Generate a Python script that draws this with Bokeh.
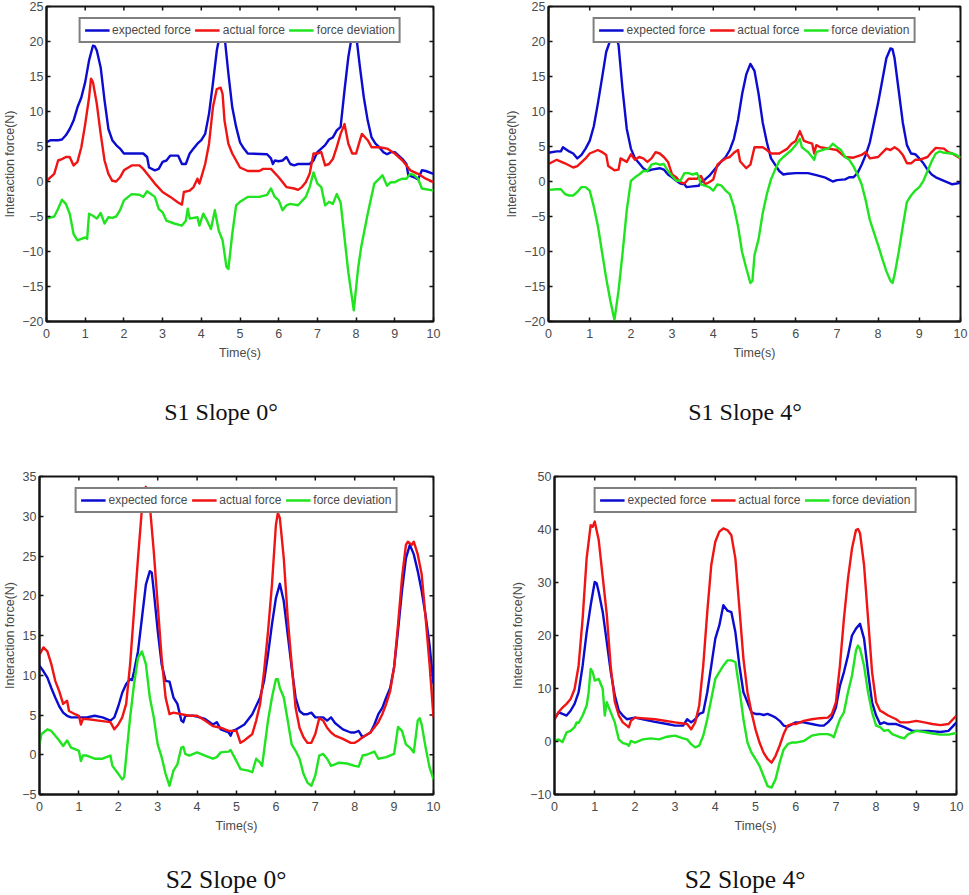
import math
from bokeh.plotting import figure
from bokeh.models import Range1d, FixedTicker, Div, Spacer
from bokeh.layouts import column, row
from bokeh.embed import file_html
from bokeh.resources import INLINE

# ---------------- data (time s, force N) ----------------
S1_SLOPE0_EXPECTED = [(0,5.6),(0.1,5.9),(0.3,5.9),(0.4,6.0),(0.5,6.6),(0.6,7.5),(0.7,8.7),(0.8,10.6),(0.9,12.0),(1.0,14.2),(1.1,17.3),(1.2,19.4),(1.25,19.3),(1.3,18.7),(1.4,16.3),(1.5,11.6),(1.6,7.5),(1.7,5.9),(1.8,5.2),(1.9,4.7),(2.0,4.0),(2.5,4.0),(2.6,3.5),(2.65,2.0),(2.8,1.6),(2.9,1.8),(3.0,2.8),(3.1,3.0),(3.2,3.7),(3.4,3.7),(3.5,2.5),(3.6,2.5),(3.7,4.0),(3.8,4.7),(3.9,5.4),(4.0,5.9),(4.1,6.8),(4.2,9.7),(4.3,14.0),(4.4,18.7),(4.5,21.5),(4.55,22.0),(4.6,20.8),(4.7,15.4),(4.8,10.6),(4.9,7.8),(5.0,5.6),(5.1,4.7),(5.2,4.0),(5.7,3.9),(5.8,3.3),(5.85,2.5),(5.9,3.0),(6.0,2.9),(6.1,3.0),(6.2,3.5),(6.3,2.5),(6.4,2.3),(6.5,2.5),(6.8,2.5),(6.9,3.0),(7.0,4.2),(7.1,4.7),(7.2,5.2),(7.3,6.0),(7.4,6.3),(7.5,7.3),(7.6,7.8),(7.7,13.0),(7.8,17.8),(7.9,21.1),(7.95,22.0),(8.0,21.0),(8.1,16.3),(8.2,12.0),(8.3,8.7),(8.4,6.3),(8.5,5.4),(8.6,4.9),(8.7,4.2),(8.8,3.9),(8.9,4.2),(9.0,4.2),(9.1,3.7),(9.2,3.2),(9.3,2.5),(9.35,0.9),(9.5,0.6),(9.6,0.3),(9.7,1.6),(9.8,1.5),(10,1.1)]
S1_SLOPE0_ACTUAL = [(0,0.1),(0.1,0.6),(0.2,1.1),(0.3,3.0),(0.4,3.2),(0.5,3.5),(0.6,3.5),(0.7,2.3),(0.8,2.8),(0.9,4.9),(1.0,8.2),(1.1,12.0),(1.15,14.7),(1.2,14.2),(1.3,11.1),(1.4,6.8),(1.5,3.0),(1.6,1.1),(1.7,0.1),(1.8,0.0),(1.9,0.6),(2.0,1.6),(2.2,2.3),(2.4,2.3),(2.5,1.8),(2.6,1.1),(2.8,-0.3),(3.0,-1.5),(3.2,-2.2),(3.4,-3.0),(3.5,-3.3),(3.55,-1.5),(3.7,-1.3),(3.8,-0.8),(3.9,0.4),(3.95,-0.3),(4.0,0.6),(4.1,2.5),(4.2,5.4),(4.3,10.6),(4.4,13.2),(4.5,13.4),(4.55,12.5),(4.6,8.7),(4.7,5.4),(4.8,4.0),(4.9,3.0),(5.0,2.0),(5.2,1.5),(5.5,1.5),(5.6,1.8),(5.8,1.8),(6.0,0.6),(6.2,-0.8),(6.4,-1.0),(6.5,-1.2),(6.6,-0.8),(6.7,-0.1),(6.8,1.1),(6.9,4.0),(7.0,4.0),(7.1,4.2),(7.2,2.3),(7.3,2.5),(7.4,3.2),(7.5,4.9),(7.6,6.8),(7.7,8.2),(7.75,6.8),(7.8,5.4),(7.9,4.0),(8.0,4.0),(8.1,5.9),(8.15,6.8),(8.3,5.9),(8.4,4.9),(8.6,4.9),(8.8,4.7),(9.0,4.0),(9.2,3.0),(9.4,1.6),(9.6,1.1),(9.8,0.4),(10,-0.1)]
S1_SLOPE0_DEVIATION = [(0,-5.3),(0.2,-5.0),(0.3,-3.9),(0.4,-2.6),(0.5,-3.2),(0.6,-4.6),(0.7,-7.5),(0.8,-8.4),(0.9,-8.2),(1.0,-8.0),(1.05,-8.2),(1.1,-4.6),(1.2,-4.9),(1.3,-5.3),(1.4,-4.5),(1.5,-6.0),(1.6,-5.1),(1.7,-5.2),(1.8,-5.0),(1.9,-4.1),(2.0,-2.7),(2.2,-1.8),(2.4,-1.9),(2.5,-2.2),(2.6,-1.4),(2.8,-2.2),(2.9,-3.9),(3.0,-4.4),(3.1,-5.6),(3.3,-6.0),(3.5,-6.3),(3.6,-5.6),(3.65,-3.9),(3.7,-5.3),(3.9,-5.1),(3.95,-6.3),(4.05,-4.6),(4.15,-5.6),(4.25,-6.8),(4.35,-4.1),(4.45,-7.0),(4.55,-8.4),(4.65,-12.2),(4.7,-12.5),(4.8,-7.5),(4.9,-3.4),(5.0,-2.9),(5.2,-2.2),(5.5,-2.2),(5.7,-1.9),(5.8,-1.0),(5.9,-2.2),(6.0,-2.7),(6.1,-4.1),(6.2,-3.4),(6.3,-3.2),(6.5,-3.4),(6.7,-2.2),(6.8,-0.8),(6.9,1.3),(7.0,-0.3),(7.1,-0.8),(7.2,-3.4),(7.3,-2.9),(7.4,-3.2),(7.5,-1.8),(7.6,-3.0),(7.7,-8.0),(7.8,-13.0),(7.94,-18.4),(8.05,-12.5),(8.13,-9.4),(8.3,-4.6),(8.47,-0.3),(8.6,0.4),(8.68,0.9),(8.8,-0.6),(8.9,-0.1),(9.0,-0.1),(9.1,0.2),(9.2,0.4),(9.3,0.4),(9.4,1.1),(9.5,0.9),(9.6,0.4),(9.7,-1.0),(10,-1.3)]

S1_SLOPE4_EXPECTED = [(0,4.1),(0.2,4.3),(0.3,4.3),(0.35,4.9),(0.5,4.3),(0.6,4.0),(0.7,3.3),(0.8,3.8),(0.9,4.7),(1.0,5.8),(1.1,7.9),(1.2,11.2),(1.3,14.8),(1.4,18.5),(1.5,20.2),(1.6,21.5),(1.7,19.5),(1.8,13.0),(1.9,7.5),(2.0,4.7),(2.1,3.3),(2.2,2.6),(2.3,1.9),(2.4,1.5),(2.5,1.7),(2.7,1.9),(2.8,1.7),(2.9,1.0),(3.0,0.6),(3.1,0.1),(3.2,-0.3),(3.3,-0.4),(3.35,-0.8),(3.5,-0.7),(3.65,-0.6),(3.7,-0.1),(3.8,0.3),(3.9,0.8),(4.0,1.5),(4.1,2.2),(4.2,2.9),(4.3,3.5),(4.4,4.5),(4.5,6.1),(4.6,8.8),(4.7,12.5),(4.8,15.3),(4.9,16.8),(5.0,15.8),(5.1,12.5),(5.2,8.4),(5.3,5.6),(5.4,3.3),(5.5,2.4),(5.6,1.5),(5.7,1.0),(5.8,1.1),(6.0,1.2),(6.3,1.2),(6.5,0.9),(6.7,0.6),(6.8,0.3),(6.9,0.0),(7.0,0.2),(7.2,0.3),(7.3,0.6),(7.4,0.6),(7.5,1.2),(7.6,2.4),(7.7,3.8),(7.8,5.6),(7.9,8.4),(8.0,11.2),(8.1,14.4),(8.2,17.6),(8.3,19.0),(8.35,18.9),(8.4,17.6),(8.5,13.0),(8.6,8.4),(8.7,5.2),(8.8,4.0),(8.9,3.9),(9.0,3.3),(9.1,2.6),(9.2,1.7),(9.3,1.0),(9.4,0.6),(9.6,0.1),(9.8,-0.4),(10,-0.2)]
S1_SLOPE4_ACTUAL = [(0,2.5),(0.2,3.1),(0.4,2.6),(0.6,2.0),(0.7,2.2),(0.9,3.3),(1.0,4.0),(1.2,4.5),(1.3,4.2),(1.4,3.8),(1.45,2.2),(1.6,1.6),(1.7,1.7),(1.75,3.3),(1.9,2.8),(2.0,3.9),(2.1,3.1),(2.2,3.5),(2.3,3.3),(2.4,2.8),(2.5,3.3),(2.6,4.2),(2.7,4.0),(2.8,3.5),(2.9,2.8),(3.0,1.0),(3.1,0.6),(3.2,-0.1),(3.3,-0.3),(3.4,0.4),(3.6,0.4),(3.7,0.8),(3.8,-0.4),(3.9,-0.1),(4.0,0.3),(4.1,2.4),(4.2,2.9),(4.3,3.3),(4.4,3.5),(4.5,4.1),(4.6,4.5),(4.65,2.9),(4.8,1.9),(4.9,2.4),(5.0,4.9),(5.2,4.9),(5.3,4.5),(5.4,4.0),(5.6,4.0),(5.8,4.7),(5.9,5.4),(6.0,5.8),(6.1,7.2),(6.2,5.8),(6.3,5.6),(6.4,5.4),(6.45,4.0),(6.5,5.2),(6.6,4.9),(6.8,4.7),(7.0,4.5),(7.2,3.5),(7.4,3.4),(7.6,3.8),(7.7,4.2),(7.8,3.3),(8.0,3.5),(8.2,4.7),(8.3,4.5),(8.4,4.9),(8.5,4.5),(8.6,3.8),(8.7,2.6),(8.8,2.6),(8.9,3.1),(9.0,3.1),(9.2,3.5),(9.3,4.2),(9.4,4.8),(9.6,4.7),(9.7,4.2),(9.8,4.0),(10,3.3)]
S1_SLOPE4_DEVIATION = [(0,-1.2),(0.2,-1.1),(0.3,-1.1),(0.4,-1.8),(0.5,-2.0),(0.6,-2.0),(0.7,-1.5),(0.8,-0.8),(0.9,-0.8),(1.0,-1.3),(1.1,-3.6),(1.2,-6.4),(1.3,-10.1),(1.4,-13.8),(1.5,-17.0),(1.6,-19.8),(1.7,-15.6),(1.8,-10.1),(1.9,-4.1),(2.0,0.1),(2.1,0.6),(2.2,1.0),(2.3,1.5),(2.4,1.5),(2.5,2.4),(2.6,2.6),(2.7,2.4),(2.8,2.5),(2.9,1.5),(3.0,0.8),(3.1,0.1),(3.2,0.1),(3.3,1.2),(3.4,1.2),(3.5,1.0),(3.6,1.2),(3.65,0.6),(3.7,-0.4),(3.9,-0.8),(4.0,-1.3),(4.1,-0.4),(4.2,-0.6),(4.3,-1.3),(4.4,-1.8),(4.5,-3.6),(4.6,-6.4),(4.7,-10.1),(4.8,-12.4),(4.9,-14.5),(4.95,-14.2),(5.0,-10.5),(5.1,-8.2),(5.2,-4.5),(5.3,-1.8),(5.4,0.3),(5.5,1.7),(5.6,2.9),(5.7,3.5),(5.8,4.0),(5.9,4.5),(6.0,5.2),(6.1,6.1),(6.15,4.9),(6.3,4.2),(6.45,3.1),(6.5,4.2),(6.7,4.6),(6.8,4.7),(6.9,5.4),(7.0,4.9),(7.1,4.5),(7.2,3.5),(7.3,3.1),(7.4,2.2),(7.5,1.0),(7.6,-0.4),(7.7,-2.7),(7.8,-5.5),(7.9,-7.3),(8.0,-9.1),(8.1,-11.0),(8.2,-12.8),(8.3,-14.2),(8.35,-14.5),(8.4,-13.3),(8.5,-10.1),(8.6,-6.4),(8.7,-2.9),(8.8,-2.0),(8.9,-1.3),(9.0,-0.8),(9.1,0.1),(9.2,1.5),(9.3,2.9),(9.4,4.0),(9.5,4.3),(9.6,4.1),(9.8,4.0),(9.9,3.8),(10,3.4)]

S2_SLOPE0_EXPECTED = [(0,11.2),(0.1,10.5),(0.2,9.7),(0.3,8.4),(0.4,7.2),(0.5,6.1),(0.6,5.3),(0.7,4.9),(0.8,4.7),(1.0,4.7),(1.2,4.7),(1.4,4.9),(1.6,4.7),(1.8,4.3),(1.9,4.7),(2.0,6.1),(2.1,7.8),(2.2,8.9),(2.3,9.5),(2.35,9.4),(2.4,10.5),(2.5,13.0),(2.6,17.2),(2.7,21.4),(2.8,23.1),(2.85,22.9),(2.9,20.6),(3.0,15.6),(3.1,11.4),(3.2,9.3),(3.3,9.2),(3.4,7.2),(3.5,6.4),(3.6,4.3),(3.65,4.1),(3.7,4.9),(3.9,4.9),(4.0,4.8),(4.2,4.5),(4.4,3.8),(4.5,4.1),(4.6,3.2),(4.8,2.8),(4.85,2.4),(4.9,3.0),(5.0,3.2),(5.2,3.8),(5.4,5.1),(5.6,7.2),(5.7,9.3),(5.8,12.6),(5.9,16.4),(6.0,19.7),(6.1,21.5),(6.2,19.3),(6.3,15.1),(6.4,11.0),(6.5,7.2),(6.6,5.5),(6.7,5.1),(6.8,5.1),(6.9,5.3),(7.0,4.7),(7.2,4.7),(7.3,4.3),(7.4,4.7),(7.5,4.0),(7.7,3.2),(7.9,2.8),(8.0,2.8),(8.1,3.0),(8.2,2.2),(8.4,2.8),(8.5,3.8),(8.6,5.1),(8.7,5.9),(8.8,7.2),(8.9,8.4),(9.0,11.0),(9.1,15.6),(9.2,20.6),(9.3,24.7),(9.4,26.4),(9.5,25.2),(9.6,23.1),(9.7,20.6),(9.8,17.5),(9.9,13.8),(10,8.9)]
S2_SLOPE0_ACTUAL = [(0,12.6),(0.1,13.5),(0.2,13.0),(0.3,11.4),(0.4,9.3),(0.5,8.0),(0.6,6.4),(0.7,6.8),(0.75,5.5),(0.9,5.1),(1.0,4.9),(1.05,3.8),(1.1,4.5),(1.2,4.5),(1.5,4.3),(1.8,4.1),(1.9,3.2),(2.0,3.8),(2.1,4.7),(2.2,6.4),(2.3,11.4),(2.4,18.1),(2.5,24.7),(2.6,31.0),(2.7,33.7),(2.75,33.1),(2.8,31.4),(2.9,25.6),(3.0,18.9),(3.1,12.2),(3.2,7.2),(3.3,5.1),(3.4,5.3),(3.6,5.1),(3.8,4.9),(4.0,4.9),(4.2,4.3),(4.4,3.6),(4.6,3.4),(4.8,3.0),(5.0,3.0),(5.1,1.5),(5.2,1.8),(5.3,2.2),(5.4,2.6),(5.5,4.3),(5.6,6.4),(5.7,10.5),(5.8,15.5),(5.9,21.4),(6.0,28.9),(6.05,30.4),(6.1,29.8),(6.2,24.7),(6.3,17.2),(6.4,11.4),(6.5,5.9),(6.6,3.4),(6.7,2.2),(6.8,1.5),(6.9,1.5),(7.0,2.6),(7.1,4.6),(7.2,4.3),(7.3,3.4),(7.4,2.8),(7.5,2.4),(7.7,2.0),(7.9,1.5),(8.0,1.5),(8.1,1.8),(8.2,2.2),(8.4,2.8),(8.6,4.1),(8.7,5.1),(8.8,6.4),(8.9,8.0),(9.0,11.0),(9.1,16.4),(9.2,22.2),(9.3,26.4),(9.35,26.8),(9.45,26.4),(9.5,26.8),(9.6,25.2),(9.7,22.7),(9.8,17.2),(9.9,11.4),(10,4.7)]
S2_SLOPE0_DEVIATION = [(0,1.3),(0.05,2.6),(0.1,2.8),(0.2,3.2),(0.3,3.0),(0.4,2.4),(0.5,1.8),(0.6,1.1),(0.7,1.8),(0.8,0.9),(0.9,0.7),(1.0,0.5),(1.05,-0.8),(1.1,-0.1),(1.2,-0.1),(1.4,-0.5),(1.6,-0.5),(1.8,-0.1),(1.85,-1.4),(2.0,-2.4),(2.1,-3.1),(2.15,-2.8),(2.2,-0.3),(2.3,4.7),(2.4,8.9),(2.5,12.2),(2.6,13.0),(2.7,11.4),(2.8,7.2),(2.9,4.7),(3.0,1.3),(3.1,-0.3),(3.2,-2.4),(3.3,-3.9),(3.4,-2.0),(3.5,-1.2),(3.6,0.9),(3.65,1.0),(3.7,0.1),(3.8,-0.1),(4.0,0.3),(4.2,-0.1),(4.4,-0.5),(4.5,-0.3),(4.6,0.3),(4.8,0.4),(4.85,0.6),(5.0,-0.8),(5.1,-1.8),(5.3,-2.0),(5.4,-2.2),(5.5,-0.5),(5.6,-1.0),(5.65,-1.4),(5.7,0.5),(5.8,4.3),(5.9,7.2),(6.0,9.5),(6.05,9.5),(6.1,8.4),(6.2,7.2),(6.3,4.3),(6.4,1.3),(6.5,0.5),(6.6,-0.5),(6.7,-2.4),(6.8,-3.5),(6.9,-3.9),(7.0,-2.6),(7.1,-0.1),(7.2,0.1),(7.3,-0.5),(7.4,-1.4),(7.5,-1.2),(7.6,-1.0),(7.8,-1.1),(8.0,-1.4),(8.1,-1.5),(8.2,-0.1),(8.3,0.0),(8.5,0.4),(8.6,-0.5),(8.8,-0.3),(9.0,0.1),(9.1,3.5),(9.2,3.0),(9.3,1.3),(9.4,0.9),(9.5,0.3),(9.6,4.3),(9.65,4.6),(9.7,3.8),(9.8,0.9),(9.9,-1.6),(10,-3.1)]

S2_SLOPE4_EXPECTED = [(0,4.2),(0.1,5.5),(0.2,5.2),(0.3,4.9),(0.4,5.8),(0.5,7.1),(0.6,9.3),(0.7,14.3),(0.8,20.6),(0.9,25.7),(1.0,30.1),(1.05,29.8),(1.1,28.2),(1.2,24.4),(1.3,18.8),(1.4,13.1),(1.5,8.7),(1.6,5.8),(1.7,4.9),(1.8,4.2),(2.0,4.5),(2.2,4.2),(2.5,3.7),(2.8,3.3),(3.0,3.0),(3.2,3.0),(3.3,4.2),(3.4,3.6),(3.5,4.2),(3.6,5.2),(3.7,5.5),(3.8,9.3),(3.9,14.3),(4.0,19.4),(4.1,21.9),(4.2,25.7),(4.3,24.7),(4.4,24.4),(4.5,20.6),(4.6,14.3),(4.7,9.3),(4.8,7.4),(4.9,5.5),(5.0,5.2),(5.1,5.2),(5.2,5.0),(5.3,5.2),(5.4,4.9),(5.5,4.5),(5.6,3.9),(5.7,3.0),(5.8,2.8),(6.0,3.6),(6.2,3.6),(6.4,3.3),(6.6,3.0),(6.7,3.0),(6.8,3.6),(6.9,4.5),(7.0,6.4),(7.1,10.5),(7.2,13.1),(7.3,16.2),(7.4,20.0),(7.5,21.3),(7.6,22.2),(7.7,19.4),(7.8,13.1),(7.9,7.4),(8.0,4.9),(8.1,3.3),(8.2,3.6),(8.3,3.3),(8.5,3.3),(8.7,2.7),(8.9,2.0),(9.0,2.0),(9.3,2.0),(9.6,1.8),(9.8,2.0),(10,3.6)]
S2_SLOPE4_ACTUAL = [(0,4.2),(0.1,5.5),(0.2,6.4),(0.3,7.1),(0.4,8.0),(0.5,9.9),(0.6,14.3),(0.7,23.2),(0.8,34.6),(0.9,40.8),(0.95,40.5),(1.0,41.5),(1.1,38.0),(1.2,31.0),(1.3,24.0),(1.4,14.0),(1.5,7.5),(1.6,4.9),(1.7,3.6),(1.8,3.0),(1.85,2.7),(1.9,3.9),(2.0,4.5),(2.5,4.2),(3.0,3.6),(3.2,3.4),(3.3,3.3),(3.4,2.3),(3.5,3.6),(3.6,6.8),(3.7,14.3),(3.8,24.4),(3.9,33.3),(4.0,37.7),(4.1,39.6),(4.2,40.2),(4.3,39.9),(4.4,38.9),(4.5,34.5),(4.6,25.1),(4.7,15.6),(4.8,9.3),(4.9,5.5),(5.0,2.3),(5.1,-0.2),(5.2,-2.1),(5.3,-3.3),(5.4,-4.0),(5.5,-2.7),(5.6,-0.8),(5.7,1.4),(5.8,3.0),(5.9,3.3),(6.0,3.3),(6.2,3.9),(6.4,4.2),(6.6,4.4),(6.8,4.5),(6.9,5.2),(7.0,7.4),(7.1,14.3),(7.2,23.2),(7.3,30.7),(7.4,36.4),(7.5,39.9),(7.55,40.1),(7.6,39.3),(7.7,33.3),(7.8,23.2),(7.9,13.1),(8.0,7.4),(8.1,5.8),(8.2,5.4),(8.3,4.9),(8.5,4.2),(8.6,3.6),(8.8,3.6),(9.0,3.9),(9.2,3.6),(9.4,3.3),(9.6,3.1),(9.8,3.3),(10,4.9)]
S2_SLOPE4_DEVIATION = [(0,0.1),(0.1,0.4),(0.2,-0.1),(0.3,1.7),(0.4,2.0),(0.5,2.7),(0.55,3.6),(0.6,3.5),(0.7,4.9),(0.8,6.8),(0.85,9.3),(0.9,13.7),(0.95,13.1),(1.0,11.5),(1.1,11.8),(1.2,9.9),(1.25,4.9),(1.3,7.4),(1.4,5.5),(1.5,3.6),(1.6,0.4),(1.7,-0.3),(1.8,-0.5),(1.85,-0.8),(1.9,0.1),(2.0,-0.2),(2.2,0.4),(2.4,0.6),(2.6,0.4),(2.8,0.9),(3.0,1.1),(3.2,0.6),(3.3,0.4),(3.4,-0.5),(3.5,-1.1),(3.6,-0.8),(3.7,1.1),(3.8,4.2),(3.9,8.0),(4.0,11.8),(4.1,13.1),(4.2,14.3),(4.3,15.3),(4.4,15.3),(4.5,15.0),(4.6,9.9),(4.7,4.2),(4.8,-0.2),(4.9,-2.1),(5.0,-3.3),(5.1,-4.6),(5.2,-6.5),(5.3,-8.4),(5.4,-8.7),(5.5,-7.1),(5.6,-4.0),(5.7,-1.5),(5.8,-0.5),(5.9,-0.2),(6.0,-0.2),(6.2,0.1),(6.4,1.1),(6.6,1.4),(6.8,1.4),(6.9,1.1),(6.95,0.8),(7.0,2.0),(7.1,4.2),(7.2,5.5),(7.3,9.3),(7.4,12.4),(7.5,17.2),(7.55,18.1),(7.6,17.5),(7.7,14.3),(7.8,9.3),(7.9,5.5),(8.0,3.0),(8.1,2.7),(8.2,2.0),(8.3,2.2),(8.4,1.4),(8.5,1.1),(8.6,0.8),(8.7,0.6),(8.8,1.4),(9.0,2.0),(9.2,1.8),(9.4,1.5),(9.6,1.3),(9.8,1.3),(10,1.6)]

SERIES_NAMES = ["expected force", "actual force", "force deviation"]
X_LABEL = "Time(s)"
Y_LABEL = "Interaction force(N)"
CAPTIONS = ["S1 Slope 0\u00b0", "S1 Slope 4\u00b0", "S2 Slope 0\u00b0", "S2 Slope 4\u00b0"]
X_TICKS = [0, 1, 2, 3, 4, 5, 6, 7, 8, 9, 10]
Y_TICKS_S1 = [-20, -15, -10, -5, 0, 5, 10, 15, 20, 25]
Y_TICKS_S2_0 = [-5, 0, 5, 10, 15, 20, 25, 30, 35]
Y_TICKS_S2_4 = [-10, 0, 10, 20, 30, 40, 50]

# ---------------- style ----------------
COLORS = ["#0c0cd0", "#f01414", "#1fe41f"]
AX = "#4a4a4a"
FRAME = "#141414"
SANS = "Liberation Sans"


def style_axis(ax, standoff, label_standoff):
    ax.major_tick_in = 4
    ax.major_tick_out = 0
    ax.minor_tick_in = 0
    ax.minor_tick_out = 0
    ax.major_tick_line_color = FRAME
    ax.major_tick_line_width = 1.5
    ax.axis_line_color = FRAME
    ax.axis_line_width = 2
    ax.major_label_text_font = SANS
    ax.major_label_text_font_size = "12.5px"
    ax.major_label_text_color = AX
    ax.major_label_standoff = standoff
    ax.axis_label_text_font = SANS
    ax.axis_label_text_font_size = "12.5px"
    ax.axis_label_text_font_style = "normal"
    ax.axis_label_text_color = AX
    ax.axis_label_standoff = label_standoff


def make_panel(series, yticks, width, height, borders):
    lo, hi = yticks[0], yticks[-1]
    l, r, t, b = borders
    p = figure(width=width, height=height, output_backend="svg", toolbar_location=None,
               x_range=Range1d(X_TICKS[0], X_TICKS[-1]), y_range=Range1d(lo, hi),
               min_border_left=l, min_border_right=r, min_border_top=t, min_border_bottom=b)
    p.xgrid.visible = False
    p.ygrid.visible = False
    p.outline_line_color = FRAME
    p.outline_line_width = 2
    p.background_fill_color = "white"
    p.border_fill_color = "white"

    p.xaxis.ticker = FixedTicker(ticks=X_TICKS)
    p.yaxis.ticker = FixedTicker(ticks=yticks)
    p.xaxis.axis_label = X_LABEL
    p.yaxis.axis_label = Y_LABEL
    style_axis(p.xaxis[0], 7, 5)
    style_axis(p.yaxis[0], 3, 2)

    # inward tick marks on the top and right edges of the box (MATLAB "box on")
    p.ray(x=X_TICKS, y=[hi] * len(X_TICKS), length=4, length_units="screen",
          angle=-math.pi / 2, line_color=FRAME, line_width=1.5)
    p.ray(x=[X_TICKS[-1]] * len(yticks), y=yticks, length=4, length_units="screen",
          angle=math.pi, line_color=FRAME, line_width=1.5)

    for pts, name, col in zip(series, SERIES_NAMES, COLORS):
        xs = [q[0] for q in pts]
        ys = [q[1] for q in pts]
        p.line(xs, ys, line_color=col, line_width=2.4, line_join="round", legend_label=name)

    lg = p.legend[0]
    lg.location = "top_center"
    lg.orientation = "horizontal"
    lg.margin = 11
    lg.padding = 4
    lg.spacing = 4
    lg.label_standoff = 3
    lg.glyph_width = 25
    lg.glyph_height = 14
    lg.label_height = 14
    lg.label_text_font = SANS
    lg.label_text_font_size = "12px"
    lg.label_text_color = AX
    lg.border_line_color = "black"
    lg.border_line_width = 2
    lg.background_fill_color = "white"
    lg.background_fill_alpha = 1.0
    return p


def caption(text, width, height, size):
    return Div(text=text, width=width, height=height, margin=(0, 0, 0, 0),
               styles={"font-family": "'Liberation Serif', 'Times New Roman', serif",
                       "font-size": size, "line-height": "%dpx" % height,
                       "text-align": "center", "color": "#111111",
                       "white-space": "nowrap"})


p1 = make_panel([S1_SLOPE0_EXPECTED, S1_SLOPE0_ACTUAL, S1_SLOPE0_DEVIATION], Y_TICKS_S1,
                488, 398, (41, 55, 6, 77))
p2 = make_panel([S1_SLOPE4_EXPECTED, S1_SLOPE4_ACTUAL, S1_SLOPE4_DEVIATION], Y_TICKS_S1,
                480, 398, (60, 8, 6, 66))
p3 = make_panel([S2_SLOPE0_EXPECTED, S2_SLOPE0_ACTUAL, S2_SLOPE0_DEVIATION], Y_TICKS_S2_0,
                488, 440, (38, 55, 50, 69))
p4 = make_panel([S2_SLOPE4_EXPECTED, S2_SLOPE4_ACTUAL, S2_SLOPE4_DEVIATION], Y_TICKS_S2_4,
                480, 440, (66, 12, 50, 72))

cap_row1 = row(caption(CAPTIONS[0], 442, 28, "24px"), Spacer(width=153, height=28),
               caption(CAPTIONS[1], 300, 28, "24px"))
cap_row2 = row(caption(CAPTIONS[2], 452, 28, "25.5px"), Spacer(width=143, height=28),
               caption(CAPTIONS[3], 300, 28, "25.5px"))

layout = column(row(p1, p2), cap_row1, row(p3, p4), cap_row2)

open("out.html", "w").write(file_html(layout, INLINE))
